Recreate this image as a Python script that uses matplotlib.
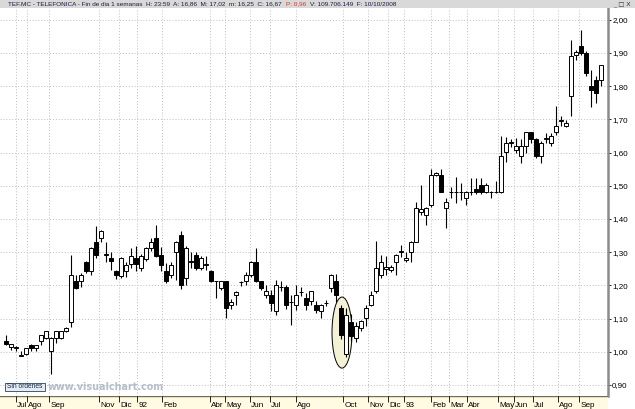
import numpy as np
import matplotlib
matplotlib.use("Agg")
import matplotlib.pyplot as plt
from matplotlib.patches import Ellipse, Rectangle

# weekly OHLC, TEF.MC
opens = [1.034, 1.015, 1.012, 0.988, 0.992, 1.022, 1.012, 1.034, 1.042, 1.002,
         1.042, 1.042, 1.062, 1.090, 1.212, 1.212, 1.272, 1.242, 1.332, 1.342,
         1.292, 1.284, 1.242, 1.227, 1.242, 1.264, 1.282, 1.252, 1.280, 1.312,
         1.342, 1.292, 1.242, 1.232, 1.302, 1.352, 1.222, 1.272, 1.292, 1.252,
         1.262, 1.242, 1.212, 1.192, 1.212, 1.140, 1.172, 1.210, 1.212, 1.232,
         1.272, 1.212, 1.172, 1.172, 1.122, 1.194, 1.194, 1.150, 1.140, 1.180,
         1.162, 1.152, 1.142, 1.122, 1.147, 1.192, 1.212, 1.132, 0.992, 1.089,
         1.042, 1.072, 1.102, 1.142, 1.182, 1.232, 1.250, 1.247, 1.272, 1.302,
         1.277, 1.302, 1.332, 1.422, 1.412, 1.442, 1.532, 1.532, 1.432, 1.480,
         1.481, 1.481, 1.463, 1.481, 1.490, 1.503, 1.481, 1.481, 1.481, 1.481,
         1.603, 1.630, 1.608, 1.590, 1.620, 1.661, 1.641, 1.590, 1.641, 1.630,
         1.661, 1.696, 1.680, 1.770, 1.893, 1.920, 1.900, 1.800, 1.820, 1.820]
highs = [1.052, 1.025, 1.017, 1.004, 1.013, 1.024, 1.022, 1.052, 1.064, 1.045,
         1.064, 1.064, 1.075, 1.292, 1.232, 1.237, 1.275, 1.315, 1.380, 1.366,
         1.332, 1.302, 1.247, 1.287, 1.272, 1.312, 1.320, 1.294, 1.317, 1.342,
         1.382, 1.317, 1.267, 1.270, 1.335, 1.364, 1.320, 1.302, 1.300, 1.290,
         1.290, 1.247, 1.214, 1.214, 1.214, 1.160, 1.182, 1.214, 1.240, 1.275,
         1.312, 1.214, 1.200, 1.187, 1.215, 1.212, 1.202, 1.170, 1.200, 1.194,
         1.177, 1.184, 1.152, 1.145, 1.157, 1.235, 1.235, 1.142, 1.132, 1.115,
         1.090, 1.097, 1.140, 1.182, 1.335, 1.292, 1.290, 1.262, 1.295, 1.322,
         1.300, 1.335, 1.452, 1.502, 1.437, 1.552, 1.542, 1.552, 1.462, 1.495,
         1.528, 1.508, 1.485, 1.523, 1.523, 1.525, 1.508, 1.483, 1.513, 1.650,
         1.648, 1.640, 1.645, 1.640, 1.663, 1.663, 1.645, 1.635, 1.658, 1.660,
         1.740, 1.710, 1.698, 1.940, 1.910, 1.970, 1.905, 1.850, 1.830, 1.865]
lows = [1.020, 1.007, 1.004, 0.986, 0.990, 1.002, 1.002, 1.022, 1.040, 0.934,
        1.027, 1.040, 1.060, 1.074, 1.190, 1.194, 1.236, 1.232, 1.282, 1.332,
        1.272, 1.247, 1.220, 1.222, 1.224, 1.252, 1.242, 1.242, 1.274, 1.305,
        1.285, 1.242, 1.207, 1.222, 1.217, 1.190, 1.202, 1.252, 1.245, 1.245,
        1.247, 1.210, 1.162, 1.187, 1.102, 1.130, 1.142, 1.197, 1.200, 1.225,
        1.210, 1.187, 1.162, 1.122, 1.112, 1.182, 1.130, 1.082, 1.125, 1.167,
        1.127, 1.142, 1.118, 1.102, 1.137, 1.180, 1.150, 1.040, 0.985, 1.032,
        1.030, 1.062, 1.077, 1.137, 1.177, 1.222, 1.232, 1.240, 1.232, 1.287,
        1.272, 1.272, 1.330, 1.412, 1.382, 1.437, 1.530, 1.480, 1.372, 1.462,
        1.448, 1.458, 1.443, 1.473, 1.476, 1.476, 1.478, 1.463, 1.479, 1.479,
        1.572, 1.618, 1.598, 1.570, 1.600, 1.630, 1.585, 1.570, 1.628, 1.620,
        1.652, 1.680, 1.676, 1.710, 1.880, 1.895, 1.830, 1.738, 1.750, 1.800]
closes = [1.024, 1.024, 1.012, 0.988, 1.012, 1.012, 1.022, 1.050, 1.062, 1.042,
          1.062, 1.062, 1.072, 1.232, 1.192, 1.230, 1.242, 1.312, 1.292, 1.364,
          1.292, 1.274, 1.232, 1.282, 1.262, 1.290, 1.264, 1.290, 1.312, 1.332,
          1.289, 1.262, 1.212, 1.262, 1.332, 1.202, 1.312, 1.272, 1.252, 1.282,
          1.262, 1.214, 1.212, 1.212, 1.132, 1.150, 1.180, 1.210, 1.232, 1.272,
          1.214, 1.192, 1.182, 1.147, 1.202, 1.194, 1.142, 1.150, 1.172, 1.180,
          1.142, 1.182, 1.125, 1.142, 1.147, 1.232, 1.172, 1.052, 1.112, 1.047,
          1.077, 1.092, 1.132, 1.172, 1.252, 1.272, 1.254, 1.254, 1.292, 1.302,
          1.282, 1.332, 1.432, 1.429, 1.432, 1.532, 1.539, 1.482, 1.452, 1.480,
          1.481, 1.481, 1.481, 1.481, 1.481, 1.481, 1.503, 1.481, 1.481, 1.590,
          1.630, 1.630, 1.620, 1.620, 1.661, 1.641, 1.590, 1.630, 1.641, 1.651,
          1.680, 1.696, 1.690, 1.890, 1.903, 1.900, 1.840, 1.790, 1.780, 1.863]

month_labels = ["Jul", "Ago", "Sep", "Nov", "Dic", "92", "Feb", "Abr", "May", "Jun",
                "Jul", "Ago", "Oct", "Nov", "Dic", "93", "Feb", "Mar", "Abr", "May",
                "Jun", "Jul", "Ago", "Sep"]
month_pos = [1.9, 4.2, 8.6, 18.6, 22.6, 26.2, 31.2, 40.8, 43.8, 48.8,
             52.8, 58.0, 67.4, 72.4, 76.4, 79.6, 85.0, 88.6, 92.2, 98.4,
             101.6, 105.4, 110.4, 114.6]
price_ticks = [0.9, 1.0, 1.1, 1.2, 1.3, 1.4, 1.5, 1.6, 1.7, 1.8, 1.9, 2.0]

header = ("TEF.MC - TELEFONICA - Fin de dia 1 semanas  H: 23:59  A: 16,86  "
          "M: 17,02  m: 16,25  C: 16,67")
header_p = "P: 0,96"
header_rest = "V: 109.706.149  F: 10/10/2008"

W, H = 635, 409
fig = plt.figure(figsize=(W / 100, H / 100), dpi=100)
fig.patch.set_facecolor("white")

plot_l, plot_r, plot_t, plot_b = 0, 608, 8, 396
ax = fig.add_axes([plot_l / W, (H - plot_b) / H, (plot_r - plot_l) / W, (plot_b - plot_t) / H])
ax.set_facecolor("white")
ax.set_xlim(-1.2, 120.4)
ax.set_ylim(0.867, 2.0355)

grid_kw = dict(color="#bdbdbd", linewidth=0.7, linestyle=(0, (1, 2)), zorder=0)
for p in price_ticks:
    ax.axhline(p, **grid_kw)
for m in month_pos:
    ax.axvline(m, **grid_kw)

# ellipse highlight around the october drop
ax.add_patch(Ellipse((67.2, 1.058), 4.0, 0.214, facecolor="#f4f2d4",
                     edgecolor="black", linewidth=0.7, zorder=1))

idx = np.arange(len(opens))
o = np.array(opens)
c = np.array(closes)
ax.vlines(idx, lows, highs, color="black", linewidth=0.8, zorder=2)
body_bot = np.minimum(o, c)
body_h = np.maximum(np.abs(c - o), 0.0015)
colors = np.where(c < o, "black", "white")
ax.bar(idx, body_h, bottom=body_bot, width=0.72, color=colors,
       edgecolor="black", linewidth=0.7, zorder=3)

for s in ax.spines.values():
    s.set_visible(False)
ax.set_xticks([])
ax.yaxis.tick_right()
ax.set_yticks(price_ticks)
ax.set_yticklabels([f"{p:.2f}".replace(".", ",") for p in price_ticks],
                   fontsize=5.8, family="Liberation Sans")
ax.tick_params(axis="y", length=2, width=0.6, pad=1, direction="out")
ax.spines["right"].set_visible(True)
ax.spines["right"].set_color("#8c8c8c")
ax.spines["right"].set_linewidth(1.8)

# bottom date strip
axb = fig.add_axes([0, 0, plot_r / W, (H - plot_b) / H])
axb.set_facecolor("#fffbe3")
axb.set_xlim(ax.get_xlim())
axb.set_ylim(0, 1)
axb.set_xticks([])
axb.set_yticks([])
for s in axb.spines.values():
    s.set_visible(False)
axb.axhline(1, color="#6e6e50", linewidth=1.0)
axb.vlines(month_pos, 0.55, 1.0, color="black", linewidth=0.6)
for m, lab in zip(month_pos, month_labels):
    axb.text(m + 0.25, 0.3, lab, fontsize=5.9, family="Liberation Sans",
             ha="left", va="center", color="black")

# header bar
axh = fig.add_axes([0, (H - plot_t) / H, 1, plot_t / H])
axh.set_facecolor("#d9d9d9")
axh.set_xticks([])
axh.set_yticks([])
for s in axh.spines.values():
    s.set_visible(False)
t1 = fig.text(8 / W, (H - 4) / H, header, fontsize=4.6, family="Liberation Sans",
              color="#1a1a40", va="center", ha="left")
fig.canvas.draw()
bb = t1.get_window_extent()
t2 = fig.text((bb.x1 + 4) / W, (H - 4) / H, header_p, fontsize=4.6,
              family="Liberation Sans", color="#e03030", va="center", ha="left")
bb2 = t2.get_window_extent()
fig.text((bb2.x1 + 4) / W, (H - 4) / H, header_rest, fontsize=4.6,
         family="Liberation Sans", color="#1a1a40", va="center", ha="left")
fig.text(622 / W, (H - 4) / H, "_ \u25a1 X", fontsize=4.6, family="DejaVu Sans",
         color="#333333", va="center", ha="center")

# "Sin órdenes" button and watermark
fig.patches.append(Rectangle((5 / W, (H - 391) / H), 40 / W, 8 / H,
                             transform=fig.transFigure, facecolor="#e4ecf4",
                             edgecolor="#30405a", linewidth=0.6))
fig.text(25 / W, (H - 387) / H, "Sin órdenes", fontsize=4.8, family="Liberation Sans",
         color="#1a2a4a", ha="center", va="center")
fig.text(48 / W, (H - 387) / H, "www.visualchart.com", fontsize=6.9, weight="bold",
         family="DejaVu Sans", color="#b4bece", ha="left", va="center")

fig.savefig("out.png", dpi=100, facecolor="white")
